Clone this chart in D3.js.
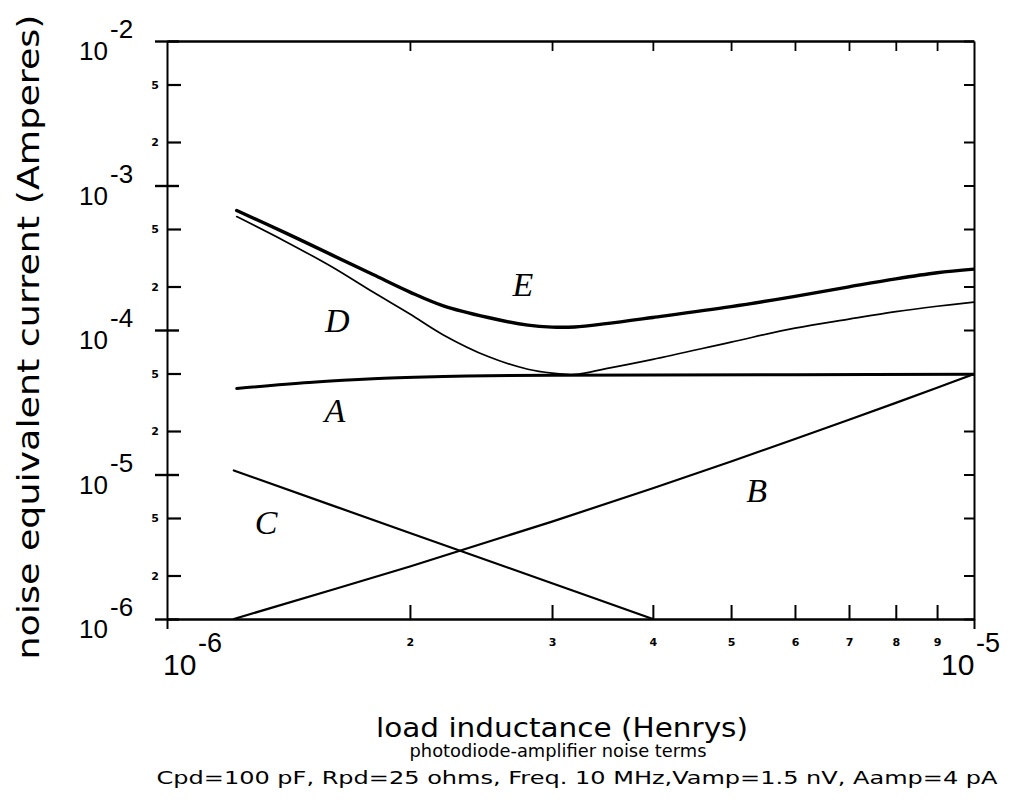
<!DOCTYPE html>
<html><head><meta charset="utf-8">
<script src="https://cdn.jsdelivr.net/npm/d3@7"></script>
<style>body{margin:0;background:#fff;} svg{display:block;}</style>
</head><body><svg id="c" width="1020" height="809"></svg>
<script>
// ---- data (load inductance in Henrys, noise current in Amperes) ----
const inductanceE = [1.22e-6,1.4e-6,1.6e-6,1.8e-6,2.0e-6,2.2e-6,2.5e-6,2.8e-6,3.0e-6,3.2e-6,3.5e-6,4e-6,5e-6,6e-6,7e-6,8e-6,9e-6,1e-5];
const curveE = [6.71e-4,4.72e-4,3.31e-4,2.42e-4,1.83e-4,1.47e-4,1.22e-4,1.08e-4,1.047e-4,1.05e-4,1.106e-4,1.22e-4,1.45e-4,1.71e-4,1.99e-4,2.26e-4,2.49e-4,2.64e-4];
const inductanceD = [1.22e-6,1.4e-6,1.6e-6,1.8e-6,2.0e-6,2.2e-6,2.5e-6,2.8e-6,3.0e-6,3.2e-6,3.5e-6,4e-6,5e-6,6e-6,7e-6,8e-6,9e-6,1e-5];
const curveD = [6.10e-4,4.12e-4,2.74e-4,1.83e-4,1.29e-4,9.25e-5,6.55e-5,5.35e-5,5.03e-5,4.93e-5,5.40e-5,6.26e-5,8.25e-5,1.03e-4,1.19e-4,1.34e-4,1.46e-4,1.56e-4];
const inductanceA = [1.22e-6,1.5e-6,1.8e-6,2.2e-6,2.5e-6,3e-6,4e-6,6e-6,1e-5];
const curveA = [3.94e-5,4.33e-5,4.60e-5,4.76e-5,4.83e-5,4.87e-5,4.89e-5,4.91e-5,4.95e-5];
const inductanceB = [1.21e-6,2e-6,3e-6,4e-6,5e-6,6e-6,7e-6,8e-6,9e-6,1e-5];
const curveB = [1.0e-6,2.31e-6,4.72e-6,8.03e-6,1.23e-5,1.76e-5,2.39e-5,3.13e-5,3.99e-5,4.95e-5];
const inductanceC = [1.21e-6,2e-6,3e-6,4e-6];
const curveC = [1.066e-5,3.94e-6,1.77e-6,1.0e-6];

const curveNames = ["E","D","A","B","C"];
const labelInductance = [2.76e-6,1.625e-6,1.615e-6,5.38e-6,1.327e-6];
const labelCurrent = [2.08e-4,1.17e-4,2.79e-5,7.81e-6,4.69e-6];

const xMinorTicks = [2e-6,3e-6,4e-6,5e-6,6e-6,7e-6,8e-6,9e-6];
const xMinorLabels = ["2","3","4","5","6","7","8","9"];
const xMajorTicks = [1e-6,1e-5];
const xMajorExp = ["-6","-5"];
const yMajorTicks = [1e-6,1e-5,1e-4,1e-3,1e-2];
const yMajorExp = ["-6","-5","-4","-3","-2"];
const yMinorTicks = [2e-6,5e-6,2e-5,5e-5,2e-4,5e-4,2e-3,5e-3];
const yMinorLabels = ["2","5","2","5","2","5","2","5"];

const yTitle = "noise equivalent current (Amperes)";
const xTitle = "load inductance (Henrys)";
const subTitle = "photodiode-amplifier noise terms";
const paramLine = "Cpd=100 pF, Rpd=25 ohms, Freq. 10 MHz,Vamp=1.5 nV, Aamp=4 pA";

// ---- layout ----
const W = 1020, H = 809;
const M = {left:167, right:974, top:41, bottom:619};
const x = d3.scaleLog().domain([1e-6,1e-5]).range([M.left, M.right]);
const y = d3.scaleLog().domain([1e-6,1e-2]).range([M.bottom, M.top]);
const svg = d3.select("#c");
svg.append("rect").attr("width",W).attr("height",H).attr("fill","#fff");
const FONT = "'DejaVu Sans', sans-serif";
const NUMFONT = "'Liberation Sans', Arial, sans-serif";

function styleAxis(g, sw){
  g.selectAll("path,line").attr("stroke","#000").attr("stroke-width", sw||2);
  g.selectAll("text").attr("fill","#000").attr("font-family",FONT);
}

// bottom axis (minor ticks pointing up, digit labels)
const gb = svg.append("g").attr("transform",`translate(0,${M.bottom})`)
  .call(d3.axisBottom(x).tickValues(xMinorTicks).tickSize(-14).tickSizeOuter(0).tickPadding(19)
    .tickFormat((d,i)=>xMinorLabels[i]));
styleAxis(gb, 2);
gb.selectAll("text").attr("font-size",11).attr("font-weight","bold");
gb.select(".domain").attr("stroke-width",2.4);

// bottom major ticks (pointing down)
const gbm = svg.append("g").attr("transform",`translate(0,${M.bottom})`)
  .call(d3.axisBottom(x).tickValues(xMajorTicks).tickSize(10).tickFormat(""));
gbm.select(".domain").remove();
styleAxis(gbm, 2);

// top axis
const gt = svg.append("g").attr("transform",`translate(0,${M.top})`)
  .call(d3.axisTop(x).tickValues(xMinorTicks).tickSize(-10).tickSizeOuter(0).tickFormat(""));
styleAxis(gt, 1.8);
gt.select(".domain").attr("stroke-width",2.4);

// left axis minor
const gl = svg.append("g").attr("transform",`translate(${M.left},0)`)
  .call(d3.axisLeft(y).tickValues(yMinorTicks).tickSize(-14).tickSizeOuter(0).tickPadding(8)
    .tickFormat((d,i)=>yMinorLabels[i]));
styleAxis(gl, 2.2);
gl.selectAll("text").attr("font-size",11).attr("font-weight","bold");
gl.select(".domain").attr("stroke-width",2);

// left axis major (crossing ticks)
[12,-12].forEach(s=>{
  const g = svg.append("g").attr("transform",`translate(${M.left},0)`)
    .call(d3.axisLeft(y).tickValues(yMajorTicks).tickSize(s).tickFormat(""));
  g.select(".domain").remove();
  styleAxis(g, 2.4);
});

// right axis
const gr = svg.append("g").attr("transform",`translate(${M.right},0)`)
  .call(d3.axisRight(y).tickValues(yMajorTicks.concat(yMinorTicks)).tickSize(-10).tickSizeOuter(0).tickFormat(""));
styleAxis(gr, 2);

// y major labels 10^n
const yl = svg.append("g").attr("font-family",NUMFONT).attr("fill","#000");
yMajorTicks.forEach((v,i)=>{
  yl.append("text").attr("x",108).attr("y",y(v)+19).attr("text-anchor","end")
    .attr("font-size",26).text("10");
  yl.append("text").attr("x",110).attr("y",y(v)-3).attr("text-anchor","start")
    .attr("font-size",26).text(yMajorExp[i]);
});

// x major labels 10^n
const xl = svg.append("g").attr("font-family",NUMFONT).attr("fill","#000");
const xTenX = [-4,-33];
xMajorTicks.forEach((v,i)=>{
  xl.append("text").attr("x",x(v)+xTenX[i]).attr("y",675).attr("font-size",30).text("10");
  xl.append("text").attr("x",x(v)+xTenX[i]+35).attr("y",652).attr("font-size",27).text(xMajorExp[i]);
});

// titles
svg.append("text").attr("transform","translate(39,337) rotate(-90)").attr("text-anchor","middle")
  .attr("font-family",FONT).attr("font-size",31).attr("textLength",645).attr("lengthAdjust","spacingAndGlyphs")
  .text(yTitle);
svg.append("text").attr("x",562).attr("y",737).attr("text-anchor","middle")
  .attr("font-family",FONT).attr("font-size",26).attr("textLength",372).attr("lengthAdjust","spacingAndGlyphs")
  .text(xTitle);
svg.append("text").attr("x",558).attr("y",757).attr("text-anchor","middle")
  .attr("font-family",FONT).attr("font-size",17).attr("textLength",297).attr("lengthAdjust","spacingAndGlyphs")
  .text(subTitle);
svg.append("text").attr("x",577).attr("y",784).attr("text-anchor","middle")
  .attr("font-family",FONT).attr("font-size",18).attr("textLength",841).attr("lengthAdjust","spacingAndGlyphs")
  .text(paramLine);

// curves
svg.append("clipPath").attr("id","plot").append("rect")
  .attr("x",M.left).attr("y",M.top).attr("width",M.right-M.left).attr("height",M.bottom-M.top);
const line = d3.line().x(d=>x(d[0])).y(d=>y(d[1])).curve(d3.curveCatmullRom.alpha(0.5));
const series = [
  [inductanceE, curveE, 3.4],
  [inductanceD, curveD, 1.7],
  [inductanceA, curveA, 3.0],
  [inductanceB, curveB, 2.2],
  [inductanceC, curveC, 2.2]
];
const gc = svg.append("g").attr("clip-path","url(#plot)");
series.forEach(([xs, ys, sw])=>{
  gc.append("path").datum(d3.zip(xs, ys)).attr("d", line)
    .attr("fill","none").attr("stroke","#000").attr("stroke-width",sw)
    .attr("stroke-linejoin","round").attr("stroke-linecap","round");
});

// curve letters
curveNames.forEach((t,i)=>{
  svg.append("text").attr("x",x(labelInductance[i])).attr("y",y(labelCurrent[i]))
    .attr("dy","0.36em").attr("text-anchor","middle")
    .attr("font-family","'Liberation Serif', 'DejaVu Serif', serif").attr("font-style","italic")
    .attr("font-size",34).attr("fill","#000").text(t);
});
</script>
</body></html>
